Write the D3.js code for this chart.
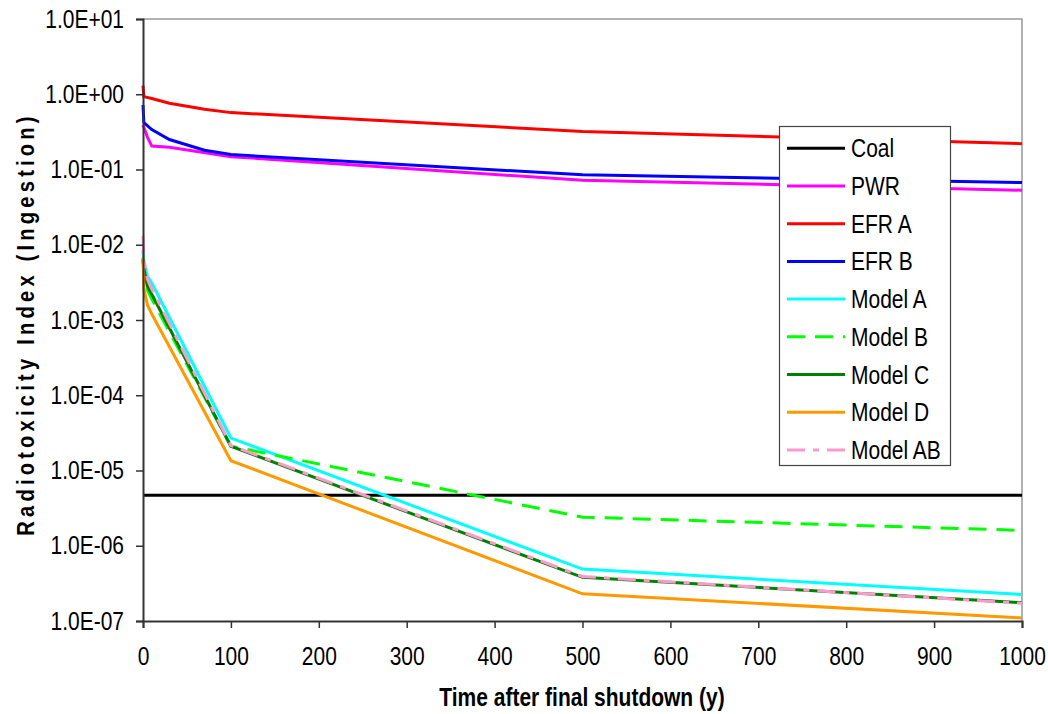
<!DOCTYPE html>
<html>
<head>
<meta charset="utf-8">
<script src="https://cdn.jsdelivr.net/npm/d3@7"></script>
<style>
  body { margin: 0; background: #fff; }
  text { font-family: Arial, "Liberation Sans", sans-serif; }
</style>
</head>
<body>
<svg id="chart" width="1048" height="714"></svg>
<script>
// time axis points (years after shutdown)
const coalYears = [0, 1000];
const reactorYears = [0, 1, 10, 30, 70, 100, 500, 1000];
const pwrYears = [0, 5, 10, 30, 100, 500, 1000];
const modelYears = [0, 1, 5, 10, 100, 500, 1000];

// radiotoxicity index values
const coalValues = [4.7e-6, 4.7e-6];
const pwrValues = [0.39, 0.27, 0.205, 0.197, 0.148, 0.072, 0.053];
const efrAValues = [1.3, 0.93, 0.88, 0.76, 0.63, 0.57, 0.32, 0.22];
const efrBValues = [0.72, 0.42, 0.34, 0.25, 0.18, 0.158, 0.085, 0.067];
const modelAValues = [0.0085, 0.006, 0.0038, 0.0031, 2.7e-5, 4.9e-7, 2.25e-7];
const modelBValues = [0.0062, 0.0045, 0.0025, 0.0019, 2.1e-5, 2.4e-6, 1.6e-6];
const modelCValues = [0.0065, 0.0048, 0.0028, 0.0022, 2.1e-5, 3.8e-7, 1.75e-7];
const modelDValues = [0.0068, 0.0026, 0.0016, 0.0012, 1.35e-5, 2.3e-7, 1.1e-7];
const modelABValues = [0.013, 0.0065, 0.0035, 0.0026, 2.15e-5, 3.9e-7, 1.72e-7];

const xTicks = [0, 100, 200, 300, 400, 500, 600, 700, 800, 900, 1000];
const yTicks = [1e-7, 1e-6, 1e-5, 1e-4, 1e-3, 1e-2, 1e-1, 1e0, 1e1];

const series = [
  { name: "Coal", years: coalYears, values: coalValues, color: "#000000", dash: null },
  { name: "PWR", years: pwrYears, values: pwrValues, color: "#ff00ff", dash: null },
  { name: "EFR A", years: reactorYears, values: efrAValues, color: "#ff0000", dash: null },
  { name: "EFR B", years: reactorYears, values: efrBValues, color: "#0000ff", dash: null },
  { name: "Model A", years: modelYears, values: modelAValues, color: "#00ffff", dash: null },
  { name: "Model B", years: modelYears, values: modelBValues, color: "#00ff00", dash: "18,10" },
  { name: "Model C", years: modelYears, values: modelCValues, color: "#008000", dash: null },
  { name: "Model D", years: modelYears, values: modelDValues, color: "#ff9900", dash: null },
  { name: "Model AB", years: modelYears, values: modelABValues, color: "#ff99cc", dash: "18,8,6,8" },
];

const svg = d3.select("#chart");
const plot = { left: 143, right: 1022, top: 19, bottom: 621 };
const squeeze = 0.84; // text in the original is tall and narrow

const x = d3.scaleLinear().domain([0, 1000]).range([plot.left, plot.right]);
const y = d3.scaleLog().domain([1e-7, 10]).range([plot.bottom, plot.top]);

const fmtExp = (v) => {
  const e = Math.round(Math.log10(v));
  const s = e >= 0 ? "+" : "-";
  return "1.0E" + s + String(Math.abs(e)).padStart(2, "0");
};

// plot frame (top and right in grey)
svg.append("path")
  .attr("d", `M${plot.left},${plot.top}H${plot.right}V${plot.bottom}`)
  .attr("fill", "none")
  .attr("stroke", "#999")
  .attr("stroke-width", 1.5);

// lines
const line = (s) => d3.line()
  .x((d, i) => x(s.years[i]))
  .y((d) => y(d))(s.values);

svg.append("g")
  .selectAll("path")
  .data(series)
  .join("path")
  .attr("d", (s) => line(s))
  .attr("fill", "none")
  .attr("stroke", (s) => s.color)
  .attr("stroke-width", 3)
  .attr("stroke-dasharray", (s) => s.dash);

// axes
const xAxis = svg.append("g")
  .attr("transform", `translate(0,${plot.bottom})`)
  .call(d3.axisBottom(x).tickValues(xTicks).tickSize(7).tickPadding(19).tickFormat(d3.format("d")));

const yAxis = svg.append("g")
  .attr("transform", `translate(${plot.left},0)`)
  .call(d3.axisLeft(y).tickValues(yTicks).tickSize(7).tickPadding(15.6).tickFormat(fmtExp));

[xAxis, yAxis].forEach((g) => {
  g.select(".domain").attr("stroke", "#333").attr("stroke-width", 2);
  g.selectAll(".tick line").attr("stroke", "#333").attr("stroke-width", 1.5);
  g.selectAll(".tick text")
    .attr("fill", "#000")
    .attr("transform", `scale(${squeeze},1)`)
    .style("font-size", "25px")
    .style("font-family", "Arial, 'Liberation Sans', sans-serif");
});

// axis titles
svg.append("text")
  .attr("transform", `translate(582,706) scale(${squeeze},1)`)
  .attr("text-anchor", "middle")
  .style("font-size", "25px")
  .style("font-weight", "bold")
  .text("Time after final shutdown (y)");

svg.append("text")
  .attr("transform", `translate(34,324) rotate(-90) scale(${squeeze},1)`)
  .attr("text-anchor", "middle")
  .style("font-size", "24px")
  .style("font-weight", "bold")
  .style("letter-spacing", "5px")
  .text("Radiotoxicity Index (Ingestion)");

// legend
const legend = svg.append("g");
legend.append("rect")
  .attr("x", 779.5)
  .attr("y", 126.5)
  .attr("width", 171)
  .attr("height", 339)
  .attr("fill", "#fff")
  .attr("stroke", "#444")
  .attr("stroke-width", 1.2);

const rows = legend.selectAll("g.row")
  .data(series)
  .join("g")
  .attr("class", "row")
  .attr("transform", (s, i) => `translate(0,${148.3 + i * 37.7})`);

rows.append("line")
  .attr("x1", 787).attr("x2", 845)
  .attr("y1", 0).attr("y2", 0)
  .attr("stroke", (s) => s.color)
  .attr("stroke-width", 3)
  .attr("stroke-dasharray", (s) => s.dash);

rows.append("text")
  .attr("transform", `translate(851,9) scale(${squeeze},1)`)
  .style("font-size", "25px")
  .text((s) => s.name);
</script>
</body>
</html>
